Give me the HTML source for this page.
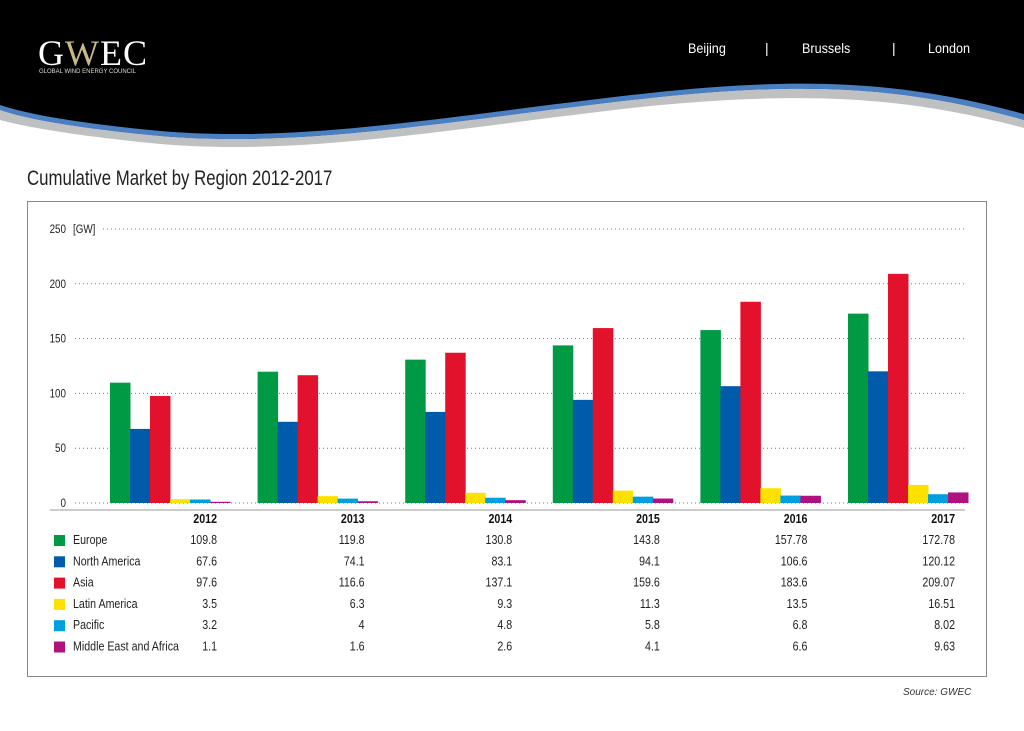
<!DOCTYPE html>
<html><head><meta charset="utf-8"><style>
body{margin:0;width:1024px;height:731px;background:#fff;font-family:"Liberation Sans",sans-serif;overflow:hidden;position:relative}
.t{position:absolute;font-family:"Liberation Sans",sans-serif;transform-origin:left top;white-space:nowrap}
</style></head><body>
<svg width="1024" height="160" style="position:absolute;left:0;top:0">
<path d="M0 0H1024V120C900 85 800 82 650 98C450 120 300 150 150 135C80 128 30 120 0 110Z" fill="#000"/>
<path d="M0 110C30 120 80 128 150 135C300 150 450 120 650 98C800 82 900 85 1024 120V128C900 95 800 92 650 106C450 128 300 158 150 143C80 136 30 128 0 120Z" fill="#bfc0c2"/>
<path d="M0 110C30 120 80 128 150 135C300 150 450 120 650 98C800 82 900 85 1024 120V114C900 80 800 77 650 93C450 115 300 145 150 130C80 123 30 115 0 105Z" fill="#4a7fc1"/>
</svg>
<div class="t" style="left:38px;top:32px;font-family:'Liberation Serif',serif;font-size:36px;color:#fff;letter-spacing:1px">G<span style="color:#c8b98a">W</span>EC</div>
<div class="t" style="left:39px;top:69px;font-size:6px;color:#ddd">GLOBAL WIND ENERGY COUNCIL</div>
<div class="t" style="left:688px;top:40px;font-size:14px;color:#fff;transform:scaleX(.9)">Beijing</div>
<div class="t" style="left:765px;top:40px;font-size:14px;color:#fff">|</div>
<div class="t" style="left:802px;top:40px;font-size:14px;color:#fff;transform:scaleX(.9)">Brussels</div>
<div class="t" style="left:892px;top:40px;font-size:14px;color:#fff">|</div>
<div class="t" style="left:928px;top:40px;font-size:14px;color:#fff;transform:scaleX(.9)">London</div>
<div class="t" style="left:27px;top:167px;font-size:21px;color:#222;transform:scaleX(.8)">Cumulative Market by Region 2012-2017</div>
<div style="position:absolute;left:27px;top:201px;width:960px;height:476px;border:1px solid #888;box-sizing:border-box"></div>
<svg id="c" width="1024" height="731" style="position:absolute;left:0;top:0"></svg>
<div class="t" style="left:903px;top:687px;font-size:10px;font-style:italic;color:#333">Source: GWEC</div>
<script>
const years=["2012","2013","2014","2015","2016","2017"];
const series=["Europe","North America","Asia","Latin America","Pacific","Middle East and Africa"];
const colors=["#009a44","#005baa","#e2112c","#ffe100","#00a0e0","#b0117f"];
const europe=[109.8,119.8,130.8,143.8,157.78,172.78];
const northAmerica=[67.6,74.1,83.1,94.1,106.6,120.12];
const asia=[97.6,116.6,137.1,159.6,183.6,209.07];
const latinAmerica=[3.5,6.3,9.3,11.3,13.5,16.51];
const pacific=[3.2,4,4.8,5.8,6.8,8.02];
const mea=[1.1,1.6,2.6,4.1,6.6,9.63];
const yTicks=[0,50,100,150,200,250];
const vals=[europe,northAmerica,asia,latinAmerica,pacific,mea];
const svg=document.getElementById('c');const NS='http://www.w3.org/2000/svg';
const y=v=>503-v*274/250;
const gx=i=>110+i*147.6;
const F='"Liberation Sans",sans-serif';
function mk(t,a,txt){const e=document.createElementNS(NS,t);for(const k in a)e.setAttribute(k,a[k]);if(txt!==undefined)e.textContent=txt;svg.appendChild(e);return e;}
function tx(x,yy,s,attrs){const a=Object.assign({x:0,y:0,'font-family':F,fill:'#222',transform:'translate('+x+','+yy+') scale(0.82,1)'},attrs);return mk('text',a,s);}
yTicks.forEach(t=>{
 const l=mk('line',{x1:t==250?103:75,x2:965,y1:y(t),y2:y(t),stroke:'#777','stroke-dasharray':'1 3','stroke-width':1});
 
 const e=tx(66,y(t)+4,t,{'text-anchor':'end','font-size':12});
 
});
const u=tx(73,y(250)+4,'[GW]',{'font-size':12});

years.forEach((yr,i)=>{
 vals.forEach((s,j)=>{
  const r=mk('rect',{x:gx(i)+j*20,y:y(s[i]),width:20.5,height:503-y(s[i]),fill:colors[j]});
  
 });
 const h=tx(gx(i)+107,523,yr,{'text-anchor':'end','font-size':13,'font-weight':'bold',fill:'#111'});
 
 vals.forEach((s,j)=>{
  const v=tx(gx(i)+107,544+j*21.3,s[i],{'text-anchor':'end','font-size':13});
  
 });
});
const hl=mk('line',{x1:50,x2:965,y1:510,y2:510,stroke:'#999'});

series.forEach((n,j)=>{
 const r=mk('rect',{x:54,y:535+j*21.3,width:11,height:11,fill:colors[j]});
 
 const t=tx(73,544+j*21.3,n,{'font-size':13});
 
});
</script>
</body></html>
